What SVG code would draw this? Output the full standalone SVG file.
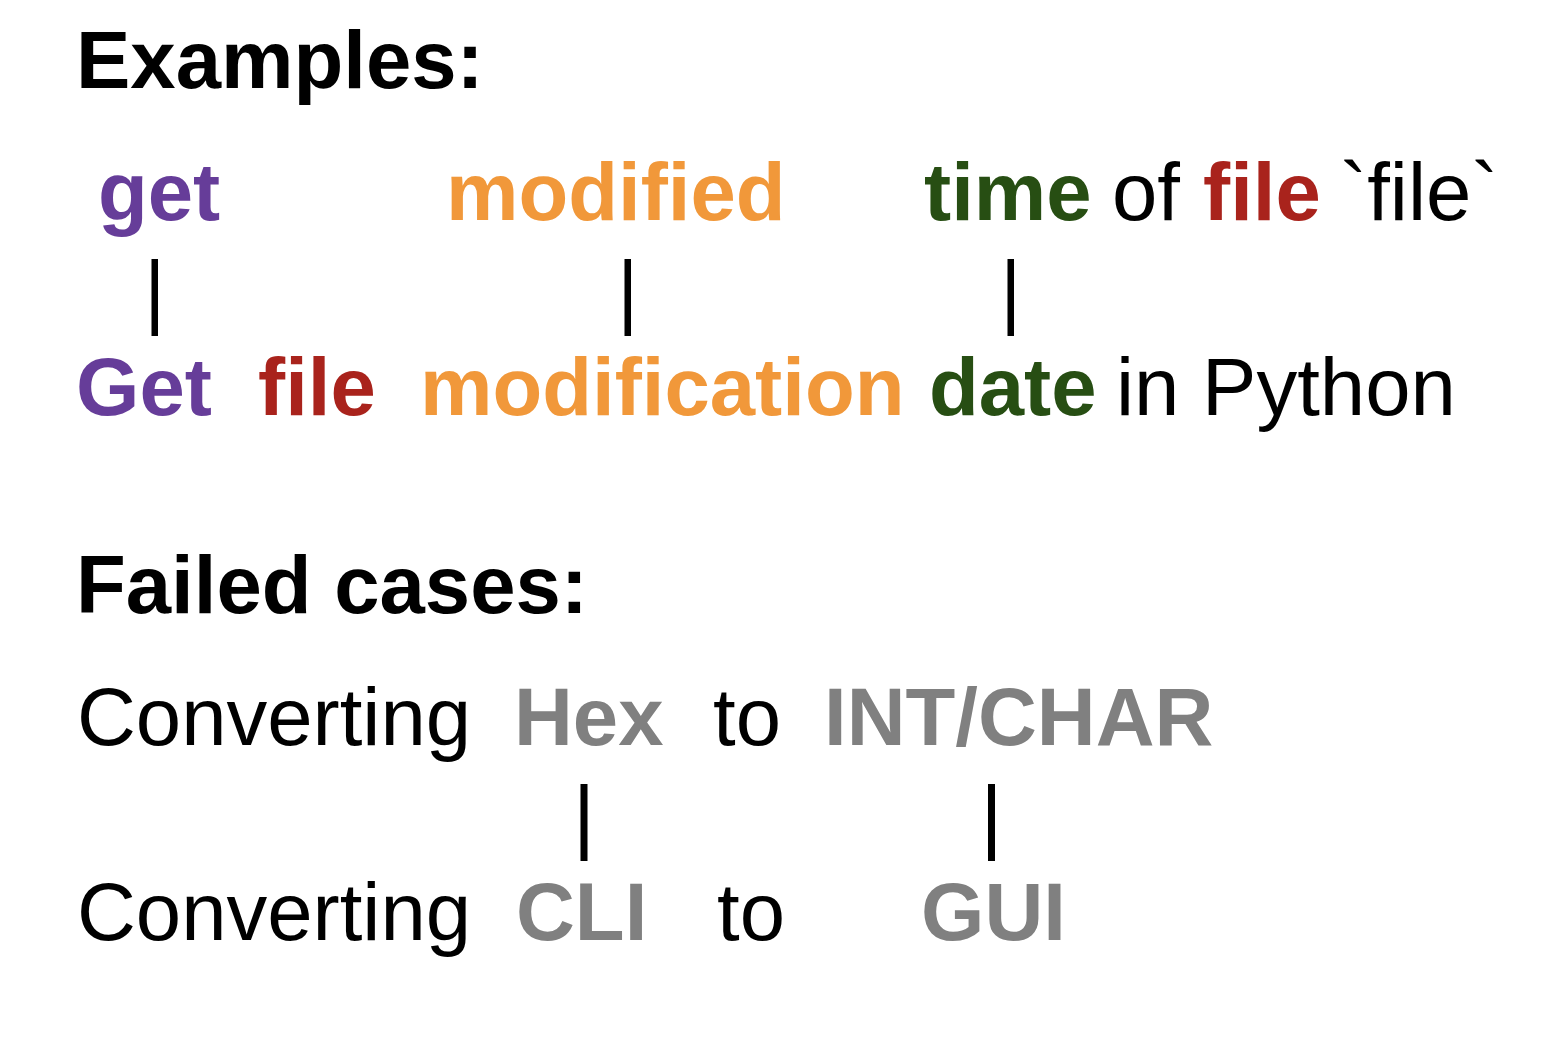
<svg xmlns="http://www.w3.org/2000/svg" width="1542" height="1042" viewBox="0 0 1542 1042">
<style>
text{font-family:"Liberation Sans",Arial,sans-serif;font-size:81.5px;fill:#000}
.b{font-weight:bold}
.pu{fill:#663d99}
.or{fill:#f1983a}
.gr{fill:#274e13}
.rd{fill:#a9231c}
.gy{fill:#808080}
.bar{fill:#000}
</style>
<rect width="1542" height="1042" fill="#fff"/>
<g id="heading-examples"><text class="b" x="76" y="88">Examples:</text></g>
<g id="query-1">
<text class="b pu" x="98" y="220">get</text>
<text class="b or" x="446" y="220">modified</text>
<text class="b gr" x="924" y="220">time</text>
<text x="1112" y="220">of</text>
<text class="b rd" x="1203" y="220">file</text>
<text x="1340" y="220">`file`</text>
</g>
<g id="title-1">
<text class="b pu" x="76" y="415">Get</text>
<text class="b rd" x="258" y="415">file</text>
<text class="b or" x="420" y="415">modification</text>
<text class="b gr" x="929" y="415">date</text>
<text x="1116" y="415">in Python</text>
</g>
<g id="heading-failed"><text class="b" x="76" y="613">Failed cases:</text></g>
<g id="query-2">
<text x="77" y="745">Converting</text>
<text class="b gy" x="514" y="745">Hex</text>
<text x="713" y="745">to</text>
<text class="b gy" x="824" y="745">INT/CHAR</text>
</g>
<g id="title-2">
<text x="77" y="940">Converting</text>
<text class="b gy" x="516" y="940">CLI</text>
<text x="717" y="940">to</text>
<text class="b gy" x="921" y="940">GUI</text>
</g>
<g id="connectors">
<rect class="bar" x="151.5" y="259" width="6.5" height="77"/>
<rect class="bar" x="624.5" y="259" width="6.5" height="77"/>
<rect class="bar" x="1007.5" y="259" width="6.5" height="77"/>
<rect class="bar" x="580.5" y="784" width="7" height="77"/>
<rect class="bar" x="988" y="784" width="7" height="77"/>
</g>
</svg>
